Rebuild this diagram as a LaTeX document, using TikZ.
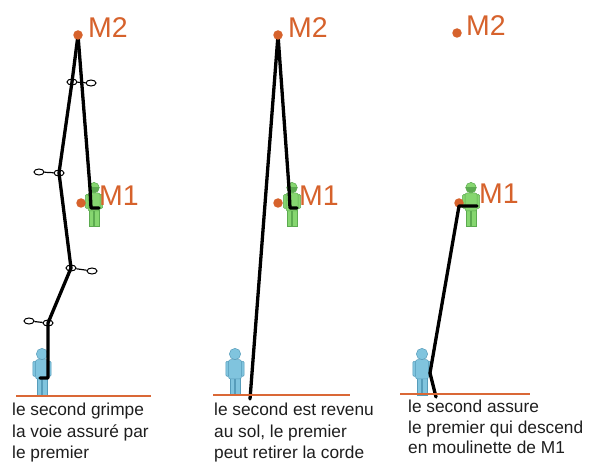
\documentclass[tikz,border=0pt]{standalone}
\usepackage{fontspec}
\setmainfont{Liberation Sans}
\usetikzlibrary{shapes.geometric}
\definecolor{boltorange}{RGB}{214,98,44}
\definecolor{groundorange}{RGB}{218,104,54}
\definecolor{leadgreen}{RGB}{134,214,112}
\definecolor{leadgreendark}{RGB}{92,170,80}
\definecolor{secondblue}{RGB}{128,196,222}
\definecolor{secondbluedark}{RGB}{86,156,186}
\definecolor{captiongray}{RGB}{30,30,30}
\tikzset{
  % a standing figure, feet at the origin, height about 43 units
  person/.pic={
    \path[pic actions] (-4.8,0) rectangle (-0.5,-16);
    \path[pic actions] (0.5,0) rectangle (4.8,-16);
    \path[pic actions, rounded corners=1.2] (-8.6,-17.5) rectangle (-5.4,-31.5);
    \path[pic actions, rounded corners=1.2] (5.4,-17.5) rectangle (8.6,-31.5);
    \path[pic actions, rounded corners=2] (-6,-15) rectangle (6,-33);
    \path[pic actions] (0,-38.3) circle[radius=5.3];
  },
  helmet/.pic={
    \fill[leadgreendark] (-5.5,-38.8) arc[start angle=180, end angle=0, radius=5.5] -- cycle;
  },
  leader/.style={fill=leadgreen, draw=leadgreendark, line width=0.5pt},
  second/.style={fill=secondblue, draw=secondbluedark, line width=0.5pt, scale=1.07},
  rope/.style={draw=black, line width=3.3pt, line join=round, line cap=round},
  groundline/.style={draw=groundorange, line width=2.8pt},
  boltdot/.style={circle, fill=boltorange, inner sep=0pt, minimum size=9.5pt},
  boltlabel/.style={text=boltorange, font=\fontsize{28.5}{28.5}\selectfont, anchor=base west, inner sep=0pt},
  caption/.style={font=\fontsize{17.3}{21}\selectfont, text=captiongray, anchor=base west, inner sep=0pt},
  biner/.style={ellipse, draw=black, line width=1pt, inner sep=0pt, minimum width=10pt, minimum height=6pt},
  sling/.style={draw=black, line width=1.2pt},
}
\begin{document}
\begin{tikzpicture}[x=1pt,y=-1pt]
\useasboundingbox (0,0) rectangle (604,462);

% ---------------- left: the second climbs on top rope ----------------
\coordinate (A2) at (78,35);
\coordinate (A1) at (81,203);
\coordinate (qa1) at (72,82);   \coordinate (qa2) at (91,83);
\coordinate (qb1) at (59,173);  \coordinate (qb2) at (39,172);
\coordinate (qc1) at (71,268);  \coordinate (qc2) at (92,271);
\coordinate (qd1) at (48,323);  \coordinate (qd2) at (29,321);
\coordinate (hipA) at (90,188);
\coordinate (tieA) at (91,208);
\coordinate (tieAend) at (99,208);
\coordinate (belayA) at (48,378);
\coordinate (belayAend) at (40,378);
\coordinate (gA1) at (16,396);  \coordinate (gA2) at (151,396);

\pic[leader] at (94,226) {person};
\pic at (94,226) {helmet};
\pic[second] at (42,395) {person};

\draw[rope] (A2) -- (qa1) -- (qb1) -- (qc1) -- (qd1) -- (belayA) -- (belayAend);
\draw[rope] (A2) -- (hipA) -- (tieA) -- (tieAend);

\node[biner] (ba1) at (qa1) {};  \node[biner] (ba2) at (qa2) {};
\draw[sling] (ba1) -- (ba2);
\node[biner] (bb1) at (qb1) {};  \node[biner] (bb2) at (qb2) {};
\draw[sling] (bb1) -- (bb2);
\node[biner] (bc1) at (qc1) {};  \node[biner] (bc2) at (qc2) {};
\draw[sling] (bc1) -- (bc2);
\node[biner] (bd1) at (qd1) {};  \node[biner] (bd2) at (qd2) {};
\draw[sling] (bd1) -- (bd2);

\node[boltdot] (m2a) at (A2) {};
\node[boltdot] (m1a) at (A1) {};
\node[boltlabel] (m2alabel) at (88,38) {M2};
\node[boltlabel] (m1alabel) at (99,206) {M1};

\draw[groundline] (gA1) -- (gA2);
\node[caption] (capA1) at (12,415) {le second grimpe};
\node[caption] (capA2) at (12,437) {la voie assuré par};
\node[caption] (capA3) at (12,458) {le premier};

% ---------------- middle: the second is back on the ground ----------------
\coordinate (B2) at (278,35);
\coordinate (B1) at (278,203);
\coordinate (hipB) at (289,188);
\coordinate (tieB) at (290,208);
\coordinate (tieBend) at (297,208);
\coordinate (ropeBend) at (250,399);
\coordinate (gB1) at (213,395);  \coordinate (gB2) at (350,395);

\pic[leader] at (292,226) {person};
\pic at (292,226) {helmet};
\pic[second] at (235,395) {person};

\draw[rope] (ropeBend) -- (B2) -- (hipB) -- (tieB) -- (tieBend);

\node[boltdot] (m2b) at (B2) {};
\node[boltdot] (m1b) at (B1) {};
\node[boltlabel] (m2blabel) at (288,38) {M2};
\node[boltlabel] (m1blabel) at (299,206) {M1};

\draw[groundline] (gB1) -- (gB2);
\node[caption] (capB1) at (214,415) {le second est revenu};
\node[caption] (capB2) at (214,437) {au sol, le premier};
\node[caption] (capB3) at (214,458) {peut retirer la corde};

% ---------------- right: lowering off M1 ----------------
\coordinate (C2) at (457,33);
\coordinate (C1) at (459,203);
\coordinate (tieC) at (477,206);
\coordinate (turnC) at (459,206);
\coordinate (belayC) at (430,373);
\coordinate (ropeCend) at (436,397);
\coordinate (gC1) at (400,394);  \coordinate (gC2) at (530,394);

\pic[leader] at (471,226) {person};
\pic at (471,226) {helmet};
\pic[second] at (422,395) {person};

\node[boltdot] (m2c) at (C2) {};
\node[boltdot] (m1c) at (C1) {};
\draw[rope] (tieC) -- (turnC) -- (belayC) -- (ropeCend);

\node[boltlabel] (m2clabel) at (466,36) {M2};
\node[boltlabel] (m1clabel) at (479,204) {M1};

\draw[groundline] (gC1) -- (gC2);
\node[caption] (capC1) at (408,412) {le second assure};
\node[caption] (capC2) at (408,433) {le premier qui descend};
\node[caption] (capC3) at (408,453) {en moulinette de M1};

\end{tikzpicture}
\end{document}
